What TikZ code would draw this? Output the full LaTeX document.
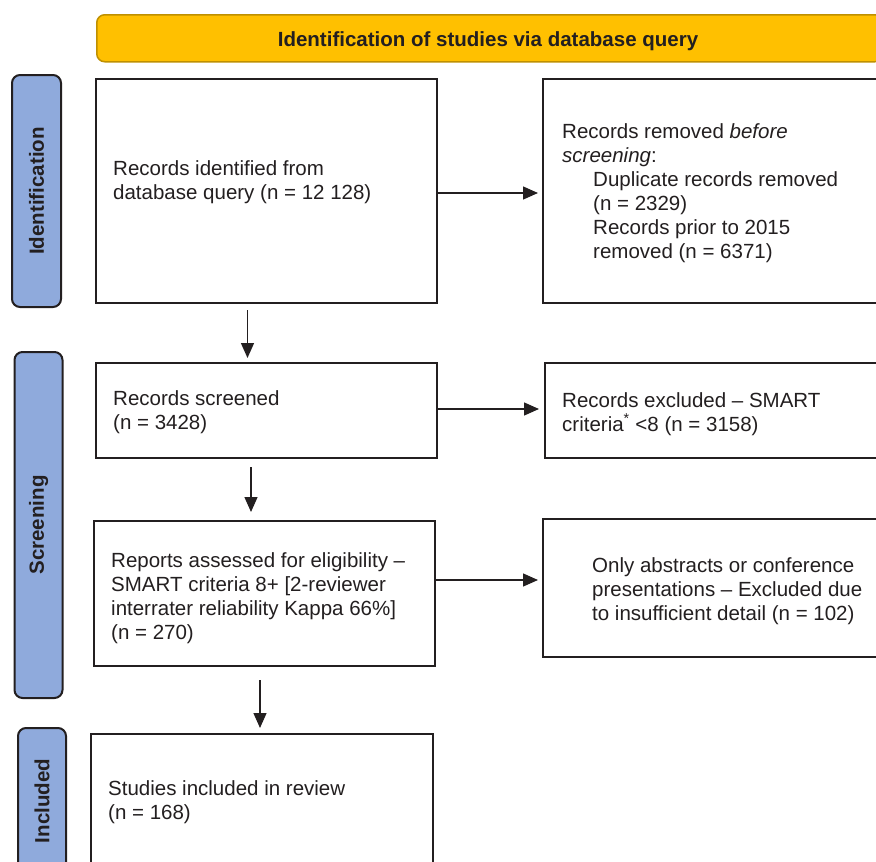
\documentclass[tikz,border=0pt]{standalone}
\usepackage{fontspec}
\setmainfont{Liberation Sans}
\usetikzlibrary{arrows.meta}
\definecolor{ink}{HTML}{231F20}
\definecolor{gold}{HTML}{FFC000}
\definecolor{golddk}{HTML}{BF9000}
\definecolor{phase}{HTML}{8FAADC}
\newcommand{\bt}[1]{\parbox[t]{420pt}{\raggedright #1}}
\begin{document}
\begin{tikzpicture}[x=1pt,y=-1pt,
  box/.style={draw=ink,line width=2pt,fill=white,rectangle,inner sep=0pt,anchor=north west},
  phasebox/.style={draw=ink,line width=2pt,fill=phase,rounded corners=8pt,rotate=90,
    text=ink,font=\fontsize{20.5}{24}\selectfont\bfseries,inner sep=0pt},
  arr/.style={draw=ink,line width=1.4pt,-{Triangle[length=15pt,width=13pt]}},
  txt/.style={anchor=base west,inner sep=0pt,text=ink,font=\fontsize{20.5}{24}\selectfont}]
\useasboundingbox (0,0) rectangle (876,862);
\clip (0,0) rectangle (876,862);

% banner
\node[draw=golddk,fill=gold,line width=1.5pt,rounded corners=8pt,inner sep=0pt,
  minimum width=786pt,minimum height=47pt,anchor=north west] (ban) at (96,14) {};
\node[txt,anchor=base,font=\fontsize{20.5}{24}\selectfont\bfseries] (bantxt) at (488,46.5)
  {Identification of studies via database query};

% phase labels
\node[phasebox,minimum width=232pt,minimum height=49pt] (p1) at (36.5,191) {Identification};
\node[phasebox,minimum width=346pt,minimum height=48pt] (p2) at (38.5,525) {Screening};
\node[phasebox,minimum width=146pt,minimum height=48pt] (p3) at (42,801) {Included};

% boxes
\node[box,minimum width=341pt,minimum height=224pt] (b1) at (95,78) {};
\node[box,minimum width=350pt,minimum height=224pt] (b2) at (542,78) {};
\node[box,minimum width=341pt,minimum height=95pt] (b3) at (95,362) {};
\node[box,minimum width=350pt,minimum height=95pt] (b4) at (544,362) {};
\node[box,minimum width=341pt,minimum height=145pt] (b5) at (93,520) {};
\node[box,minimum width=350pt,minimum height=138pt] (b6) at (542,518) {};
\node[box,minimum width=342pt,minimum height=140pt] (b7) at (90,733) {};

% texts
\node[txt] (t1) at (113,175) {\bt{Records identified from\\database query (n = 12 128)}};
\node[txt] (t2) at (562,138) {\bt{Records removed \textit{before}\\\textit{screening}:\\
  \hspace*{31pt}Duplicate records removed\\\hspace*{31pt}(n = 2329)\\
  \hspace*{31pt}Records prior to 2015\\\hspace*{31pt}removed (n = 6371)}};
\node[txt] (t3) at (113,405) {\bt{Records screened\\(n = 3428)}};
\node[txt] (t4) at (562,407) {\bt{Records excluded – SMART\\criteria\textsuperscript{*} <8 (n = 3158)}};
\node[txt] (t5) at (111,567) {\bt{Reports assessed for eligibility –\\SMART criteria 8+ [2-reviewer\\interrater reliability Kappa 66\%]\\(n = 270)}};
\node[txt] (t6) at (592,572) {\bt{Only abstracts or conference\\presentations – Excluded due\\to insufficient detail (n = 102)}};
\node[txt] (t7) at (108,795) {\bt{Studies included in review\\(n = 168)}};

% arrows
\draw[arr,shorten >=4pt] ([yshift=-2pt]b1.east) -- ([yshift=-2pt]b1.east -| b2.west);
\draw[arr,shorten >=5pt] ([yshift=1.5pt]b3.east) -- ([yshift=1.5pt]b3.east -| b4.west);
\draw[arr,shorten >=4pt] ([yshift=13.5pt]b5.east) -- ([yshift=13.5pt]b5.east -| b6.west);
\draw[arr,shorten <=6pt,shorten >=4pt] ([xshift=-19pt]b1.south) -- ([xshift=-19pt]b1.south |- b3.north);
\draw[arr,shorten <=8pt,shorten >=8pt] ([xshift=-15.5pt]b3.south) -- ([xshift=-15.5pt]b3.south |- b5.north);
\draw[arr,shorten <=13pt,shorten >=5pt] ([xshift=-4.5pt]b5.south) -- ([xshift=-4.5pt]b5.south |- b7.north);
\end{tikzpicture}
\end{document}
